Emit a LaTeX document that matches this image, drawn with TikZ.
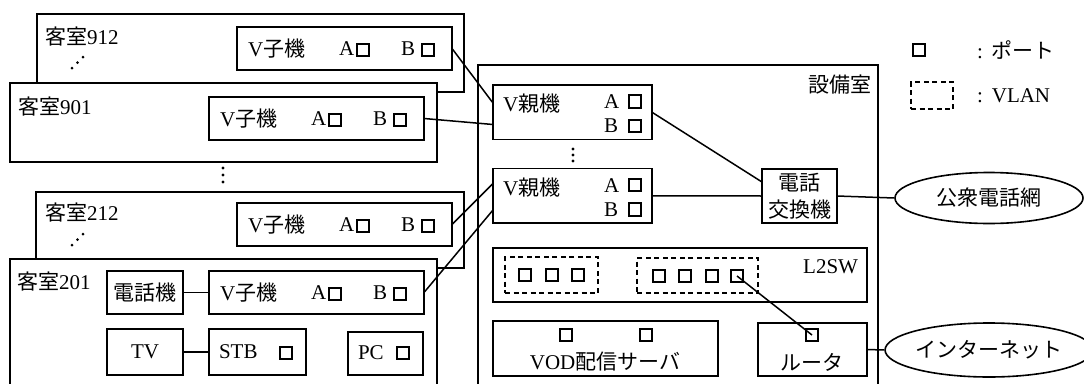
\documentclass[tikz,border=0pt]{standalone}
\usepackage{fontspec}
\setmainfont{Liberation Serif}
\newfontfamily\jp{Noto Sans CJK JP}
\usetikzlibrary{shapes.geometric}
\tikzset{
  box/.style={draw, line width=1.6pt, anchor=north west, inner sep=0pt, outer sep=0pt},
  port/.style={draw, line width=1.6pt, minimum size=12.5pt, inner sep=0pt, outer sep=0pt},
  vlanbox/.style={dash pattern=on 5pt off 3.5pt},
  txt/.style={inner sep=0pt, outer sep=0pt, font=\fontsize{21}{26}\selectfont},
  conn/.style={line width=1.5pt},
  cloud/.style={draw, ellipse, line width=1.6pt, inner sep=0pt, minimum width=188pt, minimum height=51pt, font=\fontsize{21}{24}\selectfont},
}
\newcommand\drawbox[6][]{\node[box,#1,minimum width={#5-#3},minimum height={#6-#4}] (#2) at (#3,#4) {};}
\newcommand\vchild[3]{%
  \drawbox{#1}{#2}{#3}{#2+215}{#3+43}
  \node[txt,anchor=west] (#1t) at (#2+11,#3+21.5) {V{\jp 子機}};
  \node[txt,anchor=west] (#1a) at (#2+102,#3+22) {A};
  \node[port] (#1pa) at (#2+126,#3+23) {};
  \node[txt,anchor=west] (#1b) at (#2+164,#3+22) {B};
  \node[port] (#1pb) at (#2+191,#3+23) {};
}
\newcommand\vparent[2]{%
  \drawbox{#1}{493}{#2}{652}{#2+54.5}
  \node[txt,anchor=west] (#1t) at (503,#2+19) {V{\jp 親機}};
  \node[txt,anchor=west] (#1a) at (604,#2+17) {A};
  \node[port] (#1pa) at (635,#2+16.5) {};
  \node[txt,anchor=west] (#1b) at (604,#2+41) {B};
  \node[port] (#1pb) at (635,#2+41) {};
}
\begin{document}
\begin{tikzpicture}[x=1pt,y=-1pt]
\useasboundingbox (0,0) rectangle (1084,383);
\clip (0,0) rectangle (1084,383);

% ---- room 912
\drawbox{r912}{37}{14}{464}{92}
\node[txt,anchor=west] (t912) at (45,37) {{\jp 客室}912};
\fill (72,68) circle (1.5pt) (77.5,62.5) circle (1.5pt) (83,57) circle (1.5pt);
\vchild{v912}{237}{27}

% ---- room 901
\drawbox[fill=white]{r901}{10}{83}{437}{162}
\node[txt,anchor=west] (t901) at (18,107) {{\jp 客室}901};
\vchild{v901}{209}{97}

\fill (223,168) circle (1.6pt) (223,175) circle (1.6pt) (223,182) circle (1.6pt);

% ---- room 212
\drawbox{r212}{36}{192}{464}{268}
\node[txt,anchor=west] (t212) at (45,213) {{\jp 客室}212};
\fill (72,245) circle (1.5pt) (77.5,239.5) circle (1.5pt) (83,234) circle (1.5pt);
\vchild{v212}{237}{203}

% ---- room 201
\drawbox[fill=white]{r201}{10}{259}{437}{400}
\node[txt,anchor=west] (t201) at (17,282) {{\jp 客室}201};
\drawbox{tel}{107}{271}{183}{314}
\node[txt] (telt) at (tel.center) {\jp 電話機};
\vchild{v201}{209}{271}
\drawbox{tv}{107}{329}{183}{375}
\node[txt] (tvt) at (tv.center) {TV};
\drawbox{stb}{209}{329}{306}{375}
\node[txt,anchor=west] (stbt) at (219,352) {STB};
\node[port] (stbp) at (286,353) {};
\drawbox{pc}{348}{332}{423}{375}
\node[txt,anchor=west] (pct) at (358,353) {PC};
\node[port] (pcp) at (403,353) {};

% ---- equipment room
\drawbox{eq}{478}{65}{878}{400}
\node[txt,anchor=east] (eqt) at (871,85) {\jp 設備室};
\vparent{vp1}{85}
\fill (573,149) circle (1.6pt) (573,155) circle (1.6pt) (573,161) circle (1.6pt);
\vparent{vp2}{168.5}
\drawbox{pbx}{762}{169}{837}{223}
\node[txt,align=center,font=\fontsize{21}{27}\selectfont\jp] (pbxt) at (pbx.center) {電話\\交換機};

\drawbox{l2}{493}{248}{867}{302}
\node[txt,anchor=east] (l2t) at (858,267) {L2SW};
\drawbox[vlanbox]{vl1}{505}{257}{598}{293}
\node[port] (l2p1) at (525,275) {};
\node[port] (l2p2) at (552,275) {};
\node[port] (l2p3) at (578,275) {};
\drawbox[vlanbox]{vl2}{637}{258}{758}{293}
\node[port] (l2p4) at (659,276) {};
\node[port] (l2p5) at (685,276) {};
\node[port] (l2p6) at (712,276) {};
\node[port] (l2p7) at (737,276) {};

\drawbox{vod}{493}{321}{718}{376}
\node[port] (vodp1) at (566,335) {};
\node[port] (vodp2) at (646,335) {};
\node[txt] (vodt) at (605,362) {VOD{\jp 配信サーバ}};

\drawbox{rt}{758}{323}{867}{376}
\node[port] (rtp) at (812,335) {};
\node[txt] (rtt) at (812,362) {\jp ルータ};

% ---- clouds
\node[cloud] (pstn) at (989,198) {\jp 公衆電話網};
\node[cloud, minimum height=54pt] (inet) at (989,350) {\jp インターネット};

% ---- legend
\node[port] (lgp) at (919,50) {};
\node[txt,anchor=west] (lgpt) at (977,50) {:\hspace{9pt}{\jp ポート}};
\drawbox[vlanbox]{lgv}{911}{82}{953}{109}
\node[txt,anchor=west] (lgvt) at (977,96) {:\hspace{9pt}VLAN};

% ---- connectors
\draw[conn] (v912.east) -- ([yshift=-18pt]vp1.north west);
\draw[conn] (v901.east) -- ([yshift=15pt]vp1.south west);
\draw[conn] (v212.east) -- ([yshift=-15pt]vp2.north west);
\draw[conn] (v201.east) -- ([yshift=13pt]vp2.south west);
\draw[conn] (vp1.east) -- ([yshift=14pt]pbx.west);
\draw[conn] (vp2.east) -- (pbx.west);
\draw[conn] (pbx.east) -- (pstn.west);
\draw[conn] (rt.east) -- (inet.west);
\draw[conn] (tel.east) -- (v201.west);
\draw[conn] (tv.east) -- (stb.west);
\draw[conn] (l2p7.center) -- (rtp.center);
\end{tikzpicture}
\end{document}
